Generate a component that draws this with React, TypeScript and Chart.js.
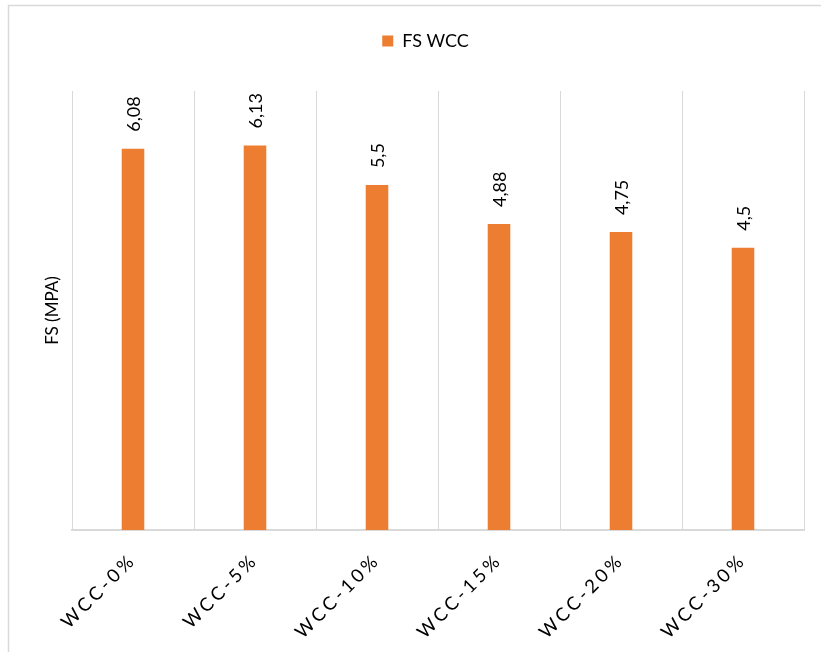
import React, { useEffect, useRef } from "react";
import { Chart, registerables, CategoryScale } from "chart.js";

Chart.register(...registerables);

class SpacedCategoryScale extends CategoryScale {
  static id = "spacedCategory";
  static defaults = CategoryScale.defaults;
  drawLabels(chartArea: any) {
    const ctx: any = this.ctx;
    ctx.save();
    ctx.letterSpacing = "3.5px";
    super.drawLabels(chartArea);
    ctx.restore();
  }
}
Chart.register(SpacedCategoryScale as any);

const categories = ["WCC-0%", "WCC-5%", "WCC-10%", "WCC-15%", "WCC-20%", "WCC-30%"];
const fsValues = [6.08, 6.13, 5.5, 4.88, 4.75, 4.5];
const seriesName = "FS WCC";
const yTitle = "FS (MPA)";
const yMin = 0;
const yMax = 7;

const FONT = "Lato";
const BAR_COLOR = "#ED7D31";
const GRID_COLOR = "#d9d9d9";
const TEXT_COLOR = "#000000";

const frameBorder = {
  id: "frameBorder",
  beforeDraw(chart: any) {
    const ctx = chart.ctx;
    ctx.save();
    ctx.strokeStyle = "#d9d9d9";
    ctx.lineWidth = 1.5;
    ctx.beginPath();
    ctx.moveTo(8.5, chart.height + 2);
    ctx.lineTo(8.5, 5.5);
    ctx.lineTo(chart.width + 2, 5.5);
    ctx.stroke();
    ctx.restore();
  },
};

const legendShift = {
  id: "legendShift",
  afterLayout(chart: any) {
    const l = chart.legend;
    if (!l) return;
    const dx = 19;
    const dy = -31;
    l.left += dx;
    l.right += dx;
    l.top += dy;
    l.bottom += dy;
  },
};

const barLabels = {
  id: "barLabels",
  afterDatasetsDraw(chart: any) {
    const ctx = chart.ctx;
    const meta = chart.getDatasetMeta(0);
    const data = chart.data.datasets[0].data as number[];
    ctx.save();
    ctx.font = `18px ${FONT}`;
    ctx.fillStyle = TEXT_COLOR;
    ctx.textAlign = "left";
    ctx.textBaseline = "middle";
    meta.data.forEach((bar: any, i: number) => {
      const text = String(data[i]).replace(".", ",");
      ctx.save();
      ctx.translate(bar.x + 1, bar.y - 17);
      ctx.rotate(-Math.PI / 2);
      ctx.fillText(text, 0, 0);
      ctx.restore();
    });
    ctx.restore();
  },
};

export default function App() {
  const canvasRef = useRef<HTMLCanvasElement | null>(null);

  useEffect(() => {
    let chart: Chart | null = null;
    let cancelled = false;
    const make = () => {
      if (cancelled || !canvasRef.current) return;
      chart = new Chart(canvasRef.current, {
        type: "bar",
        data: {
          labels: categories,
          datasets: [
            {
              label: seriesName,
              data: fsValues,
              backgroundColor: BAR_COLOR,
              borderWidth: 0,
              categoryPercentage: 1,
              barPercentage: 0.185,
            },
          ],
        },
        options: {
          animation: false,
          responsive: false,
          devicePixelRatio: 1,
          layout: { padding: { left: 9, right: 17, top: 53, bottom: 0 } },
          plugins: {
            legend: {
              position: "top",
              labels: {
                boxWidth: 11,
                boxHeight: 11,
                padding: 10,
                color: TEXT_COLOR,
                font: { family: FONT, size: 18 },
              },
            },
            tooltip: { enabled: false },
          },
          scales: {
            x: {
              type: "spacedCategory" as any,
              offset: true,
              grid: {
                display: true,
                offset: true,
                color: GRID_COLOR,
                lineWidth: 1,
                drawTicks: false,
              },
              border: { display: true, color: GRID_COLOR, width: 2 },
              ticks: {
                autoSkip: false,
                minRotation: 45,
                maxRotation: 45,
                padding: 19,
                color: TEXT_COLOR,
                font: { family: FONT, size: 18.5 },
              },
              afterFit(scale: any) {
                scale.height = 122;
                scale.paddingLeft = 0;
                scale.paddingRight = 0;
              },
            } as any,
            y: {
              min: yMin,
              max: yMax,
              grid: { display: false },
              border: { display: false },
              ticks: { display: false },
              title: {
                display: true,
                text: yTitle,
                color: TEXT_COLOR,
                font: { family: FONT, size: 17 },
                padding: { top: 33, bottom: 0 },
              },
              afterFit(scale: any) {
                scale.width = 63;
              },
            },
          },
        },
        plugins: [frameBorder, legendShift, barLabels],
      });
    };
    const fonts: any = (document as any).fonts;
    if (fonts && fonts.load) {
      Promise.all([fonts.load(`18px ${FONT}`), fonts.load(`17px ${FONT}`)])
        .catch(() => null)
        .then(make);
    } else {
      make();
    }
    return () => {
      cancelled = true;
      if (chart) chart.destroy();
    };
  }, []);

  return (
    <div style={{ position: "fixed", left: 0, top: 0, width: 821, height: 652, background: "#fff" }}>
      <canvas ref={canvasRef} width={821} height={652} style={{ display: "block" }} />
    </div>
  );
}
